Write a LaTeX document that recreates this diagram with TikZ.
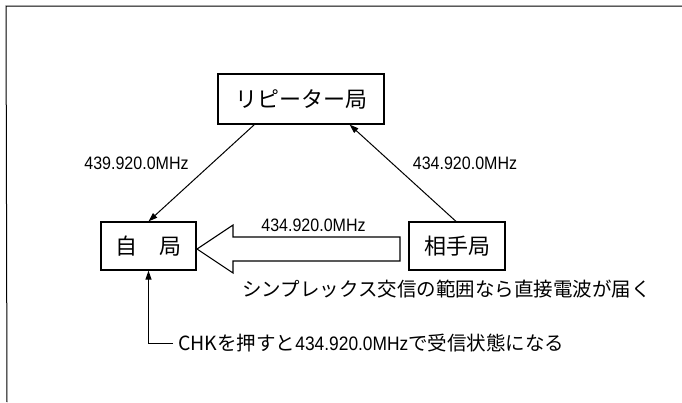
\documentclass[tikz,border=0pt]{standalone}
\usepackage{fontspec}
\newfontfamily\cjk{Noto Sans CJK JP}
\newfontfamily\lat[FakeStretch=0.89]{Liberation Sans}
\usetikzlibrary{arrows.meta}
\begin{document}
\begin{tikzpicture}[x=1pt,y=-1pt,
  box/.style={draw,line width=1.2pt,inner sep=0pt,font=\cjk\fontsize{22}{26}\selectfont},
  freq/.style={inner sep=0pt,font=\lat\fontsize{18}{22}\selectfont},
  note/.style={inner sep=0pt,anchor=west,font=\cjk\fontsize{19.5}{24}\selectfont},
  conn/.style={line width=1pt,-{Triangle[length=9pt,width=6pt]}}]
\useasboundingbox (0,0) rectangle (682,402);
% frame
\draw[line width=1pt] (682,6) -- (6,6) -- (7,402);
% boxes
\node[box,minimum width=166pt,minimum height=50pt] (rep) at (301,99) {リピーター局};
\node[box,minimum width=95pt,minimum height=48pt] (self) at (148.5,246) {自　局};
\node[box,minimum width=96pt,minimum height=48pt] (other) at (457,246) {相手局};
% connectors
\draw[conn] ([xshift=37pt]rep.south west) -- (self.north);
\draw[conn] ([xshift=-1pt]other.north) -- ([xshift=-35pt]rep.south east);
% labels
\node[freq] (f1) at (136.5,163) {439.920.0MHz};
\node[freq] (f2) at (465,163) {434.920.0MHz};
\node[freq] (f3) at (313.5,225) {434.920.0MHz};
% big hollow arrow
\draw[line width=1.1pt,line join=miter]
  (400,237) -- (233,237) -- (233,225) -- (197,249) -- (233,273) -- (233,261) -- (400,261) -- cycle;
% notes
\node[note] (simplex) at (242,289) {シンプレックス交信の範囲なら直接電波が届く};
\node[note] (chk) at (178,343) {CHK{\cjk を押すと}{\lat 434.920.0MHz}{\cjk で受信状態になる}};
\coordinate (chkend) at ([xshift=-5pt]chk.west);
\draw[conn] (chkend) -- (chkend -| self.south) -- (self.south);
\end{tikzpicture}
\end{document}
